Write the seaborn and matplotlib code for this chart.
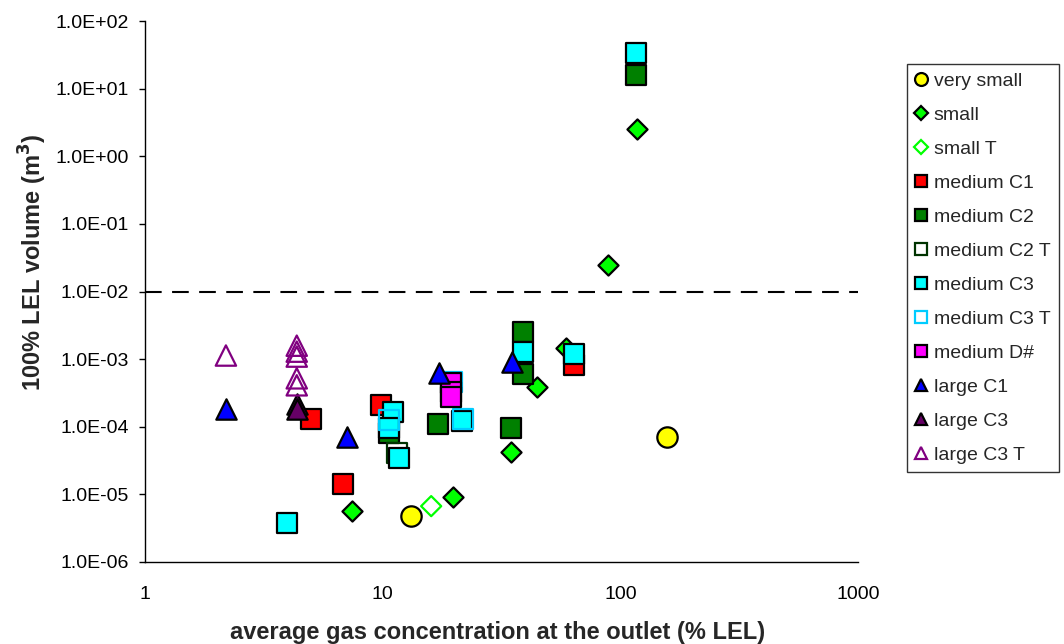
import matplotlib
matplotlib.use("Agg")
import matplotlib.pyplot as plt
from matplotlib.lines import Line2D
from matplotlib.ticker import FixedLocator, FuncFormatter, LogLocator, NullLocator
import numpy as np
import pandas as pd
import seaborn as sns

# ---- data: (x = average gas concentration at outlet, % LEL ; y = 100% LEL volume, m3)
very_small_x = [13.2, 157]
very_small_y = [4.8e-6, 7.0e-5]

small_x = [118, 88.5, 59, 44.6, 34.8, 19.8, 7.4]
small_y = [2.5, 2.45e-2, 1.45e-3, 3.85e-4, 4.2e-5, 9.1e-6, 5.6e-6]

small_t_x = [16.0]
small_t_y = [6.7e-6]

medium_c1_x = [64, 9.8, 5.0, 6.8]
medium_c1_y = [8.2e-4, 2.1e-4, 1.3e-4, 1.42e-5]

medium_c2_x = [116, 38.9, 38.9, 34.7, 17.1, 10.6]
medium_c2_y = [15.9, 2.5e-3, 6.0e-4, 9.5e-5, 1.1e-4, 8.0e-5]

medium_c2_t_x = [11.5]
medium_c2_t_y = [4.1e-5]

medium_c3_x = [116, 38.9, 63.8, 11.0, 10.6, 11.7, 21.6, 3.94]
medium_c3_y = [33.6, 1.27e-3, 1.2e-3, 1.64e-4, 9.5e-5, 3.4e-5, 1.2e-4, 3.75e-6]

medium_c3_t_x = [10.6, 21.8, 19.6]
medium_c3_t_y = [1.25e-4, 1.3e-4, 4.6e-4]

medium_d_x = [19.4, 19.4, 19.4]
medium_d_y = [4.4e-4, 3.3e-4, 2.8e-4]

large_c1_x = [2.19, 7.1, 17.3, 35.0]
large_c1_y = [1.85e-4, 7.0e-5, 6.3e-4, 9.0e-4]

large_c3_x = [4.35, 4.35]
large_c3_y = [2.2e-4, 1.85e-4]

large_c3_t_x = [2.19, 4.35, 4.35, 4.35, 4.35, 4.35]
large_c3_t_y = [1.13e-3, 1.58e-3, 1.29e-3, 1.09e-3, 5.2e-4, 4.1e-4]

threshold = 1e-2

x_ticks = [1, 10, 100, 1000]
y_ticks = [1e-6, 1e-5, 1e-4, 1e-3, 1e-2, 1e-1, 1e0, 1e1, 1e2]

# series: label, x, y, marker, face, edge, open
series = [
    ("very small", very_small_x, very_small_y, "o", "#FFFF00", "black", False),
    ("small", small_x, small_y, "D", "#00FF00", "black", False),
    ("small T", small_t_x, small_t_y, "D", "#00FF00", "#00FF00", True),
    ("medium C1", medium_c1_x, medium_c1_y, "s", "#FF0000", "black", False),
    ("medium C2", medium_c2_x, medium_c2_y, "s", "#008000", "black", False),
    ("medium C2 T", medium_c2_t_x, medium_c2_t_y, "s", "#003300", "#003300", True),
    ("medium C3", medium_c3_x, medium_c3_y, "s", "#00FFFF", "black", False),
    ("medium C3 T", medium_c3_t_x, medium_c3_t_y, "s", "#00CCFF", "#00CCFF", True),
    ("medium D#", medium_d_x, medium_d_y, "s", "#FF00FF", "black", False),
    ("large C1", large_c1_x, large_c1_y, "^", "#0000FF", "black", False),
    ("large C3", large_c3_x, large_c3_y, "^", "#660066", "black", False),
    ("large C3 T", large_c3_t_x, large_c3_t_y, "^", "#800080", "#800080", True),
]

sizes = {"o": 215, "s": 205, "D": 105, "^": 215}

sns.set_style("white")
plt.rcParams["font.family"] = ["Liberation Sans", "DejaVu Sans"]

fig = plt.figure(figsize=(10.64, 6.44), dpi=100)
ax = fig.add_axes([145 / 1064, 1 - 562 / 644, (858 - 145) / 1064, (562 - 21) / 644])

handles = []
for i, (label, xs, ys, marker, face, edge, is_open) in enumerate(series):
    df = pd.DataFrame({"x": xs, "y": ys})
    sns.scatterplot(data=df, x="x", y="y", marker=marker, s=sizes[marker],
                    color=face, edgecolor=edge, linewidth=1.6, ax=ax,
                    legend=False, zorder=3 + i)
    coll = ax.collections[-1]
    if is_open:
        coll.set_facecolor("none")
    coll.set_edgecolor(edge)
    handles.append(Line2D([], [], linestyle="none", marker=marker,
                          markersize=(9.3 if marker != "D" else 6.8),
                          markerfacecolor=("none" if is_open else face),
                          markeredgecolor=edge, markeredgewidth=1.6,
                          label=label))

ax.axhline(threshold, color="black", linewidth=1.5, dashes=(8, 5), zorder=2)

ax.set_xscale("log")
ax.set_yscale("log")
ax.set_xlim(1, 1000)
ax.set_ylim(1e-6, 1e2)

ax.xaxis.set_major_locator(FixedLocator(x_ticks))
ax.xaxis.set_major_formatter(FuncFormatter(lambda v, p: f"{v:g}"))
ax.xaxis.set_minor_locator(LogLocator(base=10, subs=np.arange(2, 10)))
ax.yaxis.set_major_locator(FixedLocator(y_ticks))
ax.yaxis.set_major_formatter(FuncFormatter(lambda v, p: f"{v:.1E}"))
ax.yaxis.set_minor_locator(NullLocator())

for side in ("top", "right"):
    ax.spines[side].set_visible(False)
for side in ("left", "bottom"):
    ax.spines[side].set_color("black")
    ax.spines[side].set_linewidth(1.0)

ax.tick_params(axis="x", which="major", direction="in", length=6, width=1,
               labelsize=14, pad=17, colors="black")
ax.tick_params(axis="x", which="minor", direction="in", length=3.5, width=1,
               colors="black")
ax.tick_params(axis="y", which="major", direction="out", length=4.3, width=1,
               labelsize=14, pad=7, colors="black", left=True)

ax.set_xlabel("average gas concentration at the outlet (% LEL)",
              fontsize=17, fontweight="bold", va="center")
ax.xaxis.set_label_coords(0.495, -(632 - 562) / 541)
ax.set_ylabel("100% LEL volume (m$^{\\mathbf{3}}$)", fontsize=17,
              fontweight="bold", va="center")
ax.yaxis.set_label_coords(-(145 - 33) / 713, (562 - 262) / 541)

leg = fig.legend(handles=handles, loc="upper left",
                 bbox_to_anchor=(907 / 1064, 1 - 64 / 644),
                 fontsize=14, frameon=True, fancybox=False, edgecolor="black",
                 handlelength=0.65, handletextpad=0.3, labelspacing=0.845,
                 borderpad=0.42, borderaxespad=0.0)
leg.get_frame().set_linewidth(1.0)

fig.savefig("out.png", dpi=100, facecolor="white")
